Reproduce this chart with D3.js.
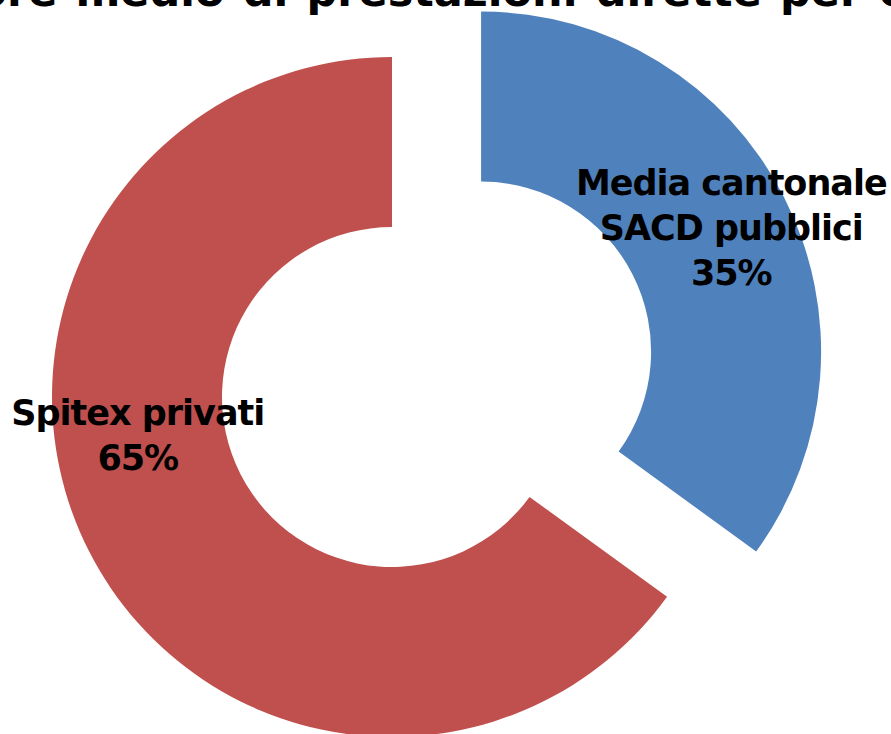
<!DOCTYPE html>
<html>
<head>
<meta charset="utf-8">
<script src="https://cdn.jsdelivr.net/npm/d3@7/dist/d3.min.js"></script>
<style>
  body { margin: 0; background: #fff; }
  svg { display: block; }
  text { font-family: "DejaVu Sans", Verdana, sans-serif; font-weight: bold; fill: #000; }
</style>
</head>
<body>
<svg id="chart"></svg>
<script>
var categories = ["Media cantonale SACD pubblici", "Spitex privati"];
var shares = [35, 65];
var labelLines = [["Media cantonale", "SACD pubblici", "35%"], ["Spitex privati", "65%"]];
var colors = ["#4F81BD", "#C0504D"];
var title = "Valore medio di prestazioni dirette per caso";

var width = 891, height = 734;
var cx = 392, cy = 397;
var outerR = 340, innerR = 170;
var explode = 100;

var svg = d3.select("#chart")
    .attr("width", width)
    .attr("height", height);

var data = categories.map((c, i) => ({ name: c, value: shares[i], lines: labelLines[i], color: colors[i] }));

var pie = d3.pie()
    .value(d => d.value)
    .sort(null);

var arc = d3.arc()
    .innerRadius(innerR)
    .outerRadius(outerR);

var arcs = pie(data);

var g = svg.append("g")
    .attr("transform", "translate(" + cx + "," + cy + ")");

// offset for the pulled-out first slice
function shift(d, i) {
  if (i !== 0) return [0, 0];
  var mid = (d.startAngle + d.endAngle) / 2;
  return [Math.sin(mid) * explode, -Math.cos(mid) * explode];
}

g.selectAll(".slice")
  .data(arcs)
  .enter()
  .append("path")
    .classed("slice", true)
    .attr("d", arc)
    .attr("fill", d => d.data.color)
    .attr("transform", (d, i) => "translate(" + shift(d, i) + ")");

// label placement tweaks relative to the slice centroid
var labelShift = [[23, -8], [-27, -78]];
var fontSize = 35, lineH = 45;

g.selectAll(".label")
  .data(arcs)
  .enter()
  .append("text")
    .classed("label", true)
    .attr("font-size", fontSize)
    .attr("letter-spacing", -1)
    .attr("text-anchor", "middle")
    .each(function(d, i) {
      var c = arc.centroid(d);
      var s = shift(d, i);
      var x = c[0] + s[0] + labelShift[i][0];
      var y = c[1] + s[1] + labelShift[i][1];
      var n = d.data.lines.length;
      d3.select(this).selectAll("tspan")
        .data(d.data.lines)
        .enter()
        .append("tspan")
          .attr("x", x)
          .attr("y", (t, k) => y + (k - (n - 1) / 2) * lineH + fontSize * 0.36)
          .text(t => t);
    });

// title, mostly cut off by the top edge
var t = svg.append("text")
    .attr("font-size", 43)
    .attr("y", 6)
    .text(title);
var node = t.node();
var pre = node.getSubStringLength(0, 4);
var perAt = title.indexOf(" per ") + 1;
var gap = (780 - 7) - (node.getSubStringLength(0, perAt) - pre);
t.attr("word-spacing", gap / 5);
pre = node.getSubStringLength(0, 4);
t.attr("x", 7 - pre);
</script>
</body>
</html>
